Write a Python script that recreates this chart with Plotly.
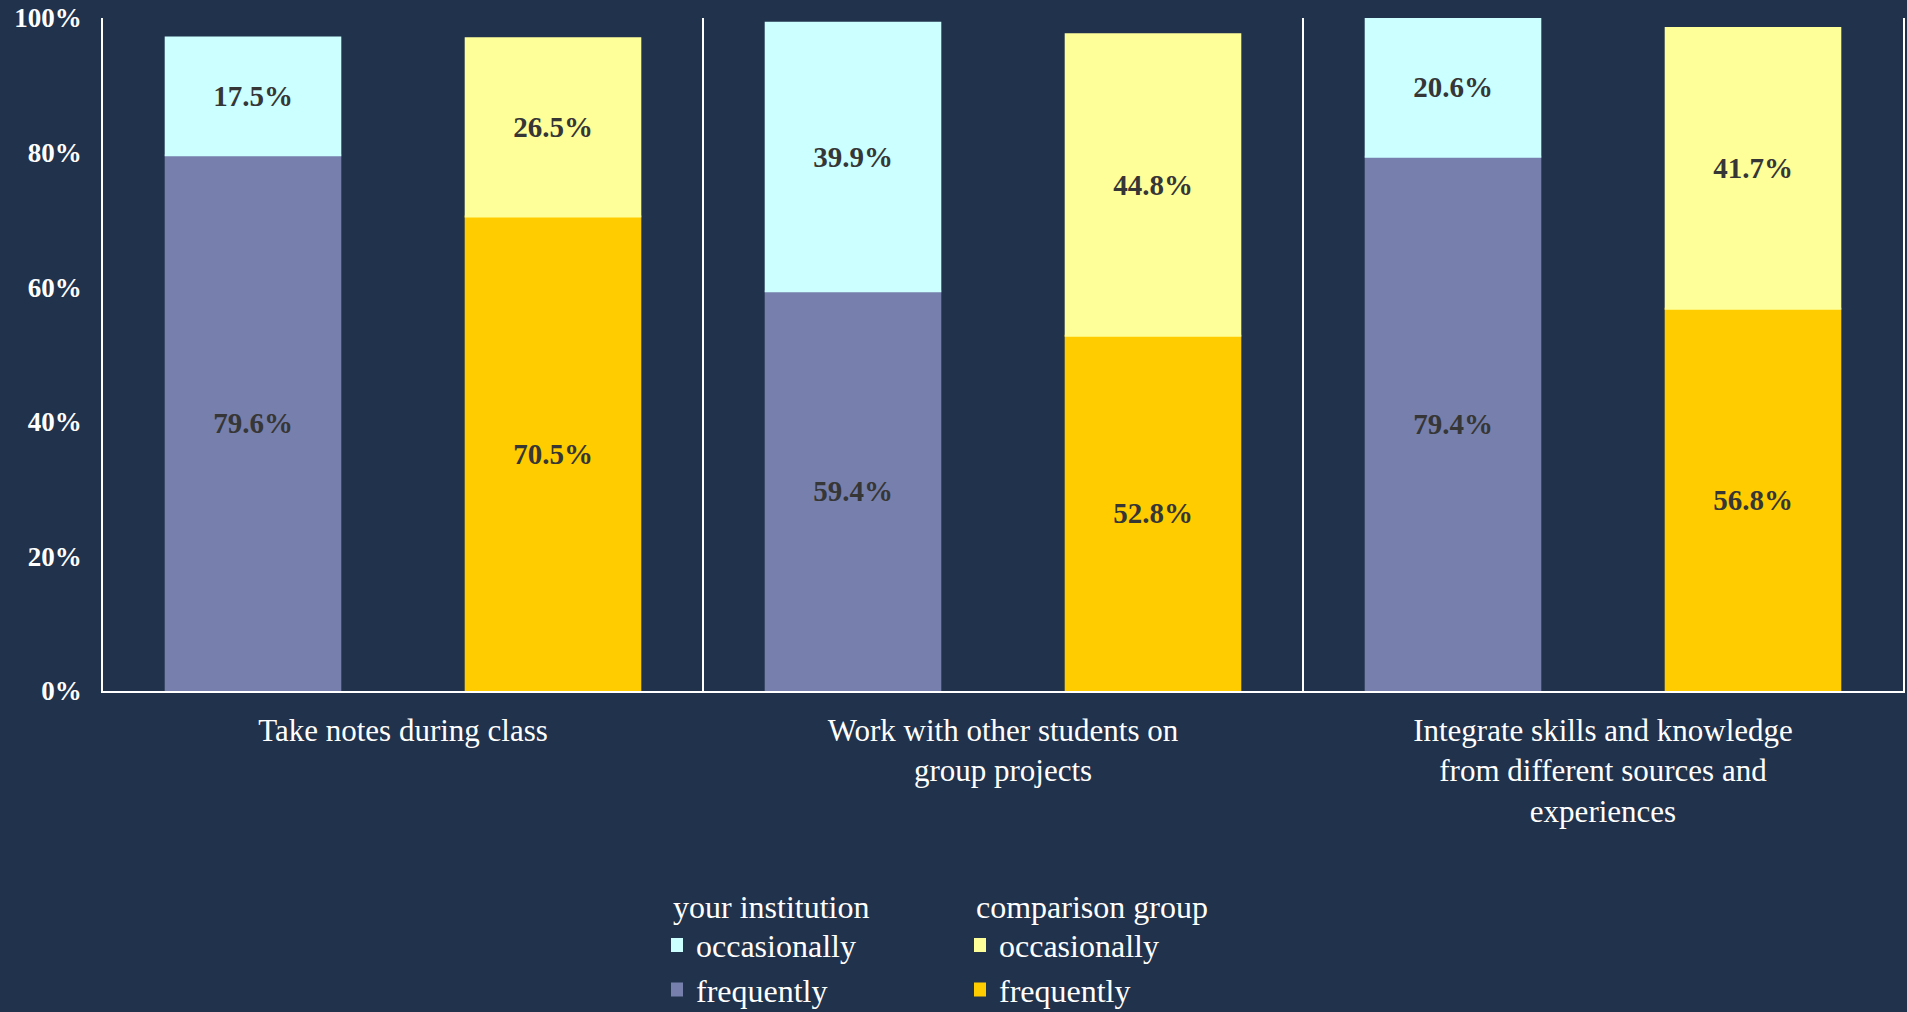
import plotly.graph_objects as go

categories = [
    "Take notes during class",
    "Work with other students on<br>group projects",
    "Integrate skills and knowledge<br>from different sources and<br>experiences",
]
inst_frequently = [79.6, 59.4, 79.4]
inst_occasionally = [17.5, 39.9, 20.6]
comp_frequently = [70.5, 52.8, 56.8]
comp_occasionally = [26.5, 44.8, 41.7]
y_ticks = [0, 20, 40, 60, 80, 100]
y_tick_labels = ["0%", "20%", "40%", "60%", "80%", "100%"]

BG = "#21324C"
FONT = "Liberation Serif"

fig = go.Figure()

def add(name, vals, color, group, legend, rank):
    fig.add_trace(go.Bar(
        x=categories, y=vals, name=name, offsetgroup=group,
        marker=dict(color=color, line=dict(width=2, color=color)),
        texttemplate="%{y:.1f}%", textposition="inside",
        insidetextanchor="middle", textangle=0,
        textfont=dict(family=FONT, size=29, color="#363636", weight="bold"),
        legend=legend, legendrank=rank,
    ))

add("frequently", inst_frequently, "#7780AC", "inst", "legend", 2)
add("occasionally", inst_occasionally, "#CCFFFF", "inst", "legend", 1)
add("frequently", comp_frequently, "#FFCC00", "comp", "legend2", 2)
add("occasionally", comp_occasionally, "#FFFF99", "comp", "legend2", 1)

legend_common = dict(
    xanchor="left", yanchor="top",
    bgcolor="rgba(0,0,0,0)", orientation="v", indentation=-15,
    font=dict(family=FONT, size=32, color="white"),
    title_font=dict(family=FONT, size=32, color="white"),
    traceorder="normal",
)

# plot area: x 103..1903 (1800 px), y 18..691 (673 px)
def px_x(x):
    return (x - 103) / 1800.0

def px_y(y):
    return (691 - y) / 673.0

fig.update_layout(
    width=1907, height=1012,
    paper_bgcolor=BG, plot_bgcolor=BG,
    barmode="relative", bargap=0, bargroupgap=0.418,
    margin=dict(l=103, r=4, t=18, b=321, autoexpand=False),
    showlegend=True,
    legend=dict(x=px_x(671), y=px_y(876), title_text="your institution", **legend_common),
    legend2=dict(x=px_x(974), y=px_y(876), title_text="comparison group", **legend_common),
    xaxis=dict(
        type="category", showgrid=True, tickson="boundaries",
        gridcolor="white", gridwidth=1.5, showline=True, linecolor="white",
        linewidth=1.5, ticks="", ticklabelstandoff=11, tickangle=0,
        tickfont=dict(family=FONT, size=31, color="white"),
        automargin=False,
    ),
    yaxis=dict(
        range=[0, 100], tickvals=y_ticks, ticktext=y_tick_labels, showgrid=False,
        showline=True, mirror=True, linecolor="white", linewidth=1.5,
        ticks="", ticklabelstandoff=14, zeroline=False, automargin=False,
        tickfont=dict(family=FONT, size=27, color="white", weight="bold"),
    ),
)

fig.write_html(
    "out.html",
    config={"displayModeBar": False},
    post_script="document.body.style.margin='0';document.body.style.overflow='hidden';",
)
